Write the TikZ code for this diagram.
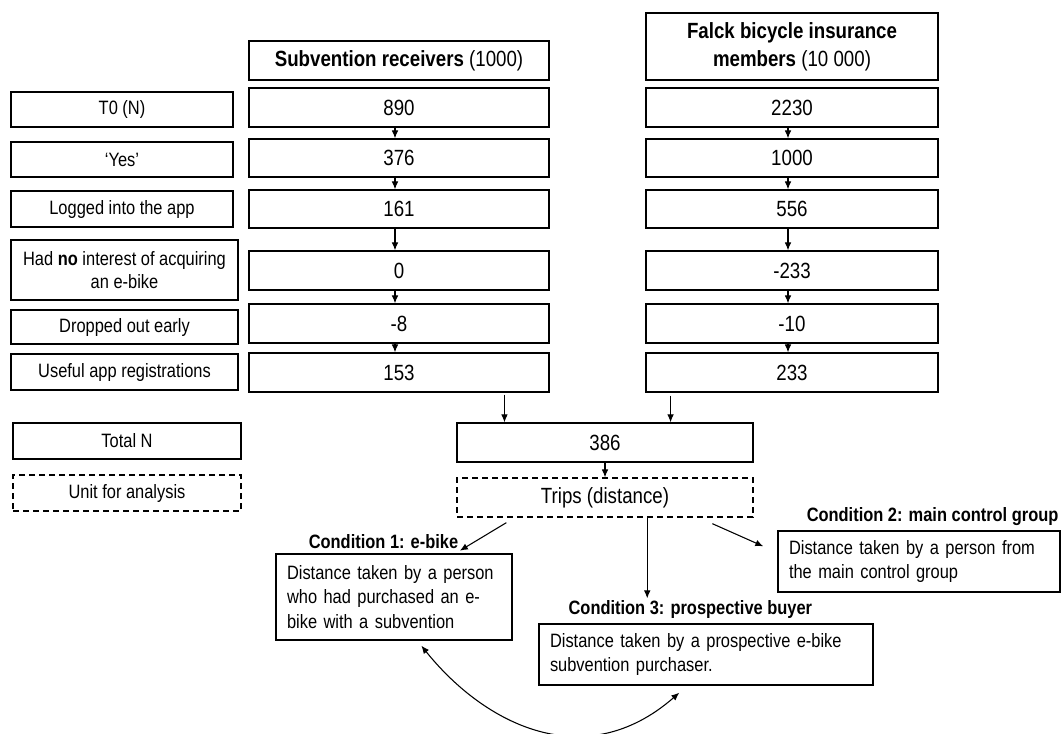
\documentclass[tikz,border=0pt]{standalone}
\usepackage{fontspec}
\setmainfont{Liberation Sans}[FakeStretch=0.85]
\usetikzlibrary{arrows.meta,calc}

\tikzset{
  box/.style={draw, line width=1pt, inner sep=2pt, align=center},
  rowlab/.style={box, font=\fontsize{14.5}{17}\selectfont},
  cell/.style={box, font=\fontsize{16.5}{21}\selectfont},
  dashbox/.style={dash pattern=on 4.5pt off 3pt},
  condlab/.style={inner sep=1pt, font=\bfseries\fontsize{14.5}{17}\selectfont},
  condbox/.style={draw, line width=1pt, align=left, inner xsep=8.25pt, font=\fontsize{14.5}{18.5}\selectfont},
  flow/.style={line width=0.8pt}
}

\begin{document}
\begin{tikzpicture}[x=0.75pt,y=-0.75pt,>={Latex[length=6pt,width=5pt]}]
  \useasboundingbox (0,0) rectangle (1061,733);

  % row labels
  \node[rowlab, minimum width=166.5pt, minimum height=26.25pt] (t0lab) at (122,109.5) {T0 (N)};
  \node[rowlab, minimum width=166.5pt, minimum height=26.25pt] (yeslab) at (122,159.5) {‘Yes’};
  \node[rowlab, minimum width=166.5pt, minimum height=27pt] (loglab) at (122,209) {Logged into the app};
  \node[rowlab, minimum width=170.25pt, minimum height=45pt] (nolab) at (124.5,270) {Had \textbf{no} interest of acquiring\\an e-bike};
  \node[rowlab, minimum width=170.25pt, minimum height=25.5pt] (droplab) at (124.5,327) {Dropped out early};
  \node[rowlab, minimum width=170.25pt, minimum height=27pt] (uselab) at (124.5,372) {Useful app registrations};
  \node[rowlab, minimum width=171pt, minimum height=27pt] (totlab) at (127,441) {Total N};
  \node[rowlab, dashbox, minimum width=171pt, minimum height=27pt] (unitlab) at (127,493) {Unit for analysis};

  % subvention receivers
  \node[cell, minimum width=225pt, minimum height=29.25pt] (subhead) at (399,60.5) {\textbf{Subvention receivers} (1000)};
  \node[cell, minimum width=225pt, minimum height=29.25pt] (s890) at (399,107.5) {890};
  \node[cell, minimum width=225pt, minimum height=28.5pt] (s376) at (399,158) {376};
  \node[cell, minimum width=225pt, minimum height=28.5pt] (s161) at (399,209) {161};
  \node[cell, minimum width=225pt, minimum height=29.25pt] (s0) at (399,270.5) {0};
  \node[cell, minimum width=225pt, minimum height=29.25pt] (sdrop) at (399,323.5) {-8};
  \node[cell, minimum width=225pt, minimum height=29.25pt] (s153) at (399,372.5) {153};

  % falck members
  \node[cell, minimum width=219pt, minimum height=50.25pt] (falhead) at (792,46.5) {\textbf{Falck bicycle insurance}\\\textbf{members} (10 000)};
  \node[cell, minimum width=219pt, minimum height=29.25pt] (f2230) at (792,107.5) {2230};
  \node[cell, minimum width=219pt, minimum height=28.5pt] (f1000) at (792,158) {1000};
  \node[cell, minimum width=219pt, minimum height=28.5pt] (f556) at (792,209) {556};
  \node[cell, minimum width=219pt, minimum height=29.25pt] (fno) at (792,270.5) {-233};
  \node[cell, minimum width=219pt, minimum height=29.25pt] (fdrop) at (792,323.5) {-10};
  \node[cell, minimum width=219pt, minimum height=29.25pt] (f233) at (792,372.5) {233};

  % total and unit
  \node[cell, minimum width=222pt, minimum height=29.25pt] (total) at (605,442.5) {386};
  \node[cell, dashbox, minimum width=222pt, minimum height=29.25pt] (trips) at (605,497.5) {Trips (distance)};

  % conditions
  \node[condlab] (c1lab) at (383.5,542) {Condition 1: e-bike};
  \node[condbox, text width=160.5pt, minimum height=64.5pt] (c1box) at (394,597) {Distance taken by a person\\who had purchased an e-\\bike with a subvention};
  \node[condlab, anchor=east] (c2lab) at (1060,517) {Condition 2: main control group};
  \node[condbox, text width=195pt, minimum height=45.75pt] (c2box) at (919,561.5) {Distance taken by a person from\\the main control group};
  \node[condlab, anchor=west] (c3lab) at (567,609) {Condition 3: prospective buyer};
  \node[condbox, text width=234pt, minimum height=45.75pt] (c3box) at (706,654.5) {Distance taken by a prospective e-bike\\subvention purchaser.};

  % column arrows
  \foreach \a/\b in {s890/s376, s376/s161, s161/s0, s0/sdrop, sdrop/s153,
                     f2230/f1000, f1000/f556, f556/fno, fno/fdrop, fdrop/f233}
    \draw[flow,->] ([xshift=-3pt]\a.south) -- ([xshift=-3pt]\b.north);

  \coordinate (subout) at ($(s153.south west)!0.85!(s153.south east)+(0,2)$);
  \coordinate (falout) at ($(f233.south west)!0.086!(f233.south east)+(0,3)$);
  \draw[flow,->] (subout) -- (subout |- total.north);
  \draw[flow,->] (falout) -- (falout |- total.north);
  \draw[flow,->] (total.south) -- (trips.north);

  % trips to conditions
  \coordinate (t1) at ($(trips.south west)+(50,5)$);
  \coordinate (t3) at ($(trips.south west)!0.642!(trips.south east)$);
  \coordinate (t2) at ($(trips.south west)+(256,6)$);
  \draw[flow,->] (t1) -- (c1lab.south east);
  \draw[flow,->] (t3) -- (t3 |- c3lab.north);
  \draw[flow,->] (t2) -- ($(c2box.north west)+(-14,16)$);

  % comparison of condition 1 and 3
  \coordinate (c1tip) at ($(c1box.south west)+(146,5)$);
  \coordinate (c3tip) at ($(c3box.south west)+(141,7)$);
  \draw[flow,<->] (c1tip) .. controls (485,725) and (585,775) .. (c3tip);
\end{tikzpicture}
\end{document}
